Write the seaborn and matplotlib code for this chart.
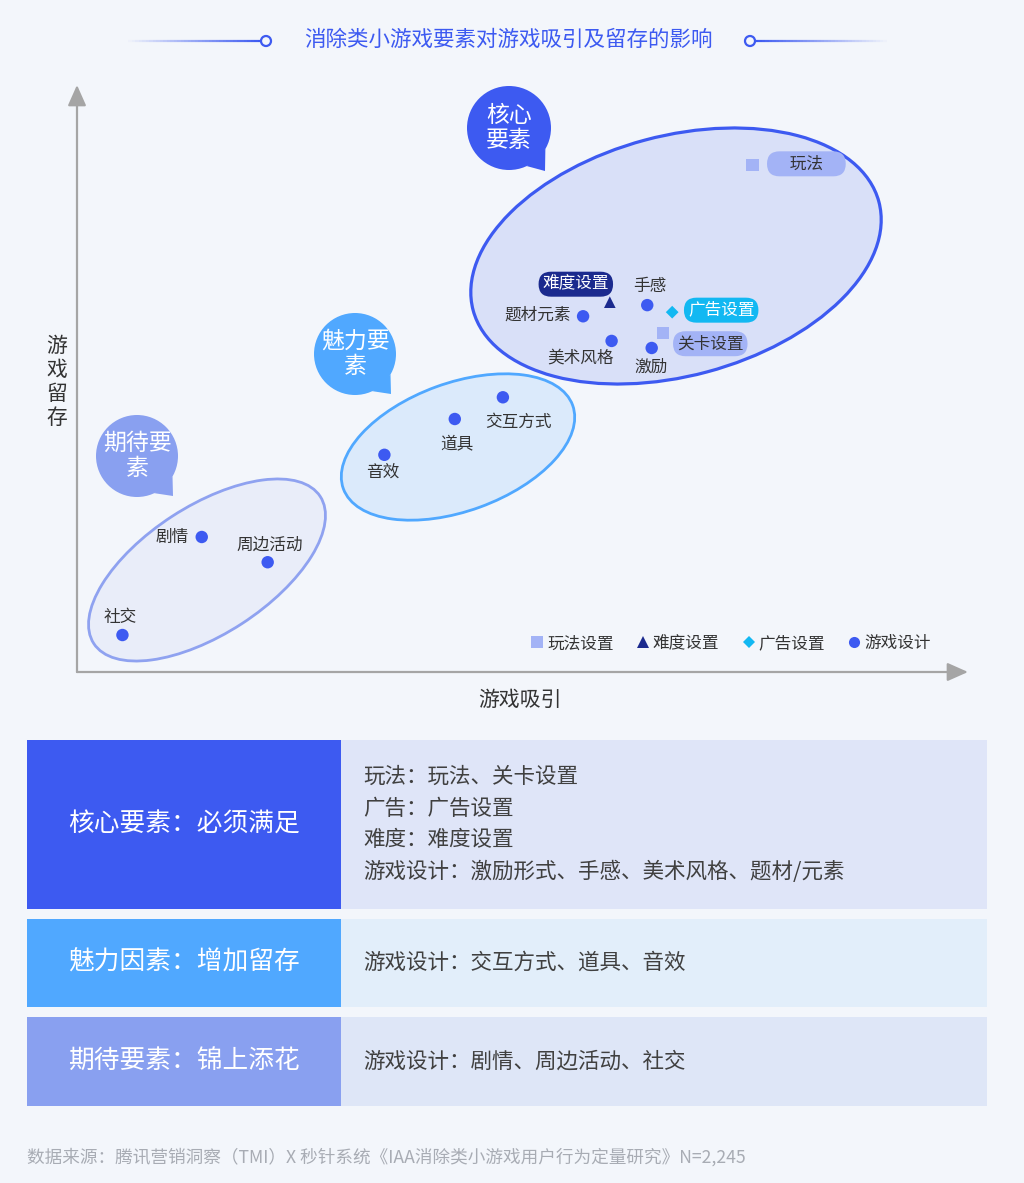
import numpy as np
import pandas as pd
import matplotlib.pyplot as plt
import seaborn as sns
from matplotlib.patches import Ellipse, Circle, Polygon, Rectangle
from matplotlib.collections import LineCollection
from matplotlib.colors import to_rgba

# data (0-100 on both axes)
names = ['玩法', '难度设置', '手感', '广告设置', '关卡设置', '题材元素', '美术风格', '激励',
         '交互方式', '道具', '音效', '剧情', '周边活动', '社交']
attract = [75.8, 59.8, 64.0, 66.8, 65.8, 56.8, 60.0, 64.5, 47.8, 42.4, 34.5, 14.0, 21.4, 5.1]
retain = [86.4, 63.0, 62.5, 61.3, 57.8, 60.6, 56.4, 55.2, 46.8, 43.1, 37.0, 23.0, 18.7, 6.3]
kinds = ['玩法设置', '难度设置', '游戏设计', '广告设置', '玩法设置', '游戏设计', '游戏设计', '游戏设计',
         '游戏设计', '游戏设计', '游戏设计', '游戏设计', '游戏设计', '游戏设计']
kind_order = ['玩法设置', '难度设置', '广告设置', '游戏设计']

title = '消除类小游戏要素对游戏吸引及留存的影响'
groups = ['核心要素：必须满足', '魅力因素：增加留存', '期待要素：锦上添花']
group_items = [['玩法：玩法、关卡设置', '广告：广告设置', '难度：难度设置',
                '游戏设计：激励形式、手感、美术风格、题材/元素'],
               ['游戏设计：交互方式、道具、音效'],
               ['游戏设计：剧情、周边活动、社交']]
source = '数据来源：腾讯营销洞察（TMI）X 秒针系统《IAA消除类小游戏用户行为定量研究》N=2,245'

W, H = 1024, 1183
BG = '#f3f6fb'
BLUE = '#3d5af1'
SKY = '#50a8ff'
LAV = '#89a0f0'
TXT = '#333333'

sns.set_theme(style='white')
plt.rcParams['font.family'] = ['Noto Sans CJK SC', 'DejaVu Sans']

fig = plt.figure(figsize=(W / 100, H / 100), dpi=100)
fig.patch.set_facecolor(BG)

# background / decoration layer in pixel units
bg = fig.add_axes([0, 0, 1, 1], zorder=0)
bg.set_xlim(0, W)
bg.set_ylim(H, 0)
bg.axis('off')

# title with gradient side lines
bg.text(508, 40, title, ha='center', va='center', fontsize=15.5, color=BLUE)
def grad_line(x0, x1, fade_left):
    xs = np.linspace(x0, x1, 40)
    segs = [[(xs[i], 41), (xs[i + 1], 41)] for i in range(len(xs) - 1)]
    a = np.linspace(0, 1, len(segs))
    if not fade_left:
        a = a[::-1]
    cols = [to_rgba(BLUE, v) for v in a]
    bg.add_collection(LineCollection(segs, colors=cols, linewidths=1.6))
grad_line(125, 261, True)
grad_line(755, 890, False)
for cx in (266, 750):
    bg.add_patch(Circle((cx, 41), 5, facecolor=BG, edgecolor=BLUE, lw=1.6))

# group ellipses
bg.add_patch(Ellipse((676, 256), 420, 240, angle=-15, facecolor='#d9e0f8', edgecolor=BLUE, lw=2.3))
bg.add_patch(Ellipse((458, 447), 244, 128, angle=-20, facecolor='#dbeafb', edgecolor=SKY, lw=2))
bg.add_patch(Ellipse((207, 570), 270, 128, angle=-33, facecolor='#e9edf9', edgecolor='#8fa2f0', lw=2))

# speech bubbles
def bubble(cx, cy, r, tip, color, label):
    a1, a2 = np.deg2rad(30), np.deg2rad(65)
    bg.add_patch(Polygon([(cx + r * np.cos(a1), cy + r * np.sin(a1)), tip,
                          (cx + r * np.cos(a2), cy + r * np.sin(a2))], color=color, lw=0))
    bg.add_patch(Circle((cx, cy), r, color=color, lw=0))
    bg.text(cx, cy, label, ha='center', va='center', fontsize=16.5, color='white',
            linespacing=1.15)
bubble(509, 128, 42, (545, 171), BLUE, '核心\n要素')
bubble(355, 354, 41, (391, 394), SKY, '魅力要\n素')
bubble(137, 456, 41, (173, 496), LAV, '期待要\n素')

# axis titles
bg.text(57, 382, '游\n戏\n留\n存', ha='center', va='center', fontsize=15, color=TXT, linespacing=1.12)
bg.text(520, 700, '游戏吸引', ha='center', va='center', fontsize=15, color=TXT)

# table
rows = [(740, 909, BLUE, '#dfe5f8'), (919, 1007, SKY, '#e2eefa'), (1017, 1106, LAV, '#dee6f7')]
for (y0, y1, lc, rc), g, items in zip(rows, groups, group_items):
    bg.add_patch(Rectangle((27, y0), 314, y1 - y0, color=lc, lw=0))
    bg.add_patch(Rectangle((341, y0), 646, y1 - y0, color=rc, lw=0))
    bg.text(184, (y0 + y1) / 2, g, ha='center', va='center', fontsize=18.5, color='white')
    n = len(items)
    mid = (y0 + y1) / 2
    for i, it in enumerate(items):
        y = mid + (i - (n - 1) / 2) * 31.7
        bg.text(363, y, it, ha='left', va='center', fontsize=15.5, color='#404040')

bg.text(27, 1157, source, ha='left', va='center', fontsize=12.7, color='#a8acb4')

# scatter layer
df = pd.DataFrame({'name': names, 'attract': attract, 'retain': retain, 'kind': kinds})
ax = fig.add_axes([77 / W, 1 - 672 / H, (968 - 77) / W, (672 - 85) / H], zorder=1)
ax.patch.set_alpha(0)
sns.scatterplot(data=df, x='attract', y='retain', hue='kind', style='kind', size='kind',
                hue_order=kind_order, style_order=kind_order, size_order=kind_order,
                palette={'玩法设置': '#a3b3f6', '难度设置': '#1b2a8e', '广告设置': '#12b8f2', '游戏设计': BLUE},
                markers={'玩法设置': 's', '难度设置': '^', '广告设置': 'D', '游戏设计': 'o'},
                sizes={'玩法设置': 80, '难度设置': 70, '广告设置': 42, '游戏设计': 80},
                linewidth=0, ax=ax)
ax.set_xlim(0, 100)
ax.set_ylim(0, 100)
ax.set_xticks([])
ax.set_yticks([])
ax.set_xlabel('')
ax.set_ylabel('')
for sp in ax.spines.values():
    sp.set_visible(False)

arrow = dict(arrowstyle='-|>,head_length=0.9,head_width=0.4', color='#a5a5a5', lw=1.6,
             mutation_scale=14, shrinkA=0, shrinkB=0)
ax.annotate('', xy=(0, 1), xytext=(0, 0), xycoords='axes fraction', arrowprops=arrow)
ax.annotate('', xy=(1, 0), xytext=(0, 0), xycoords='axes fraction', arrowprops=arrow)

# point labels: offset in pixels, alignment, pill colour
label_style = {
    '玩法': ((54, 1), 'center', '#a3b3f6', TXT, '     玩法     '),
    '难度设置': ((-34, 18), 'center', '#1b2a8e', 'white', None),
    '手感': ((3, 19), 'center', None, TXT, None),
    '广告设置': ((49, 2), 'center', '#12b8f2', 'white', None),
    '关卡设置': ((47, -11), 'center', '#a3b3f6', TXT, None),
    '题材元素': ((-12, 1), 'right', None, TXT, None),
    '美术风格': ((-31, -17), 'center', None, TXT, None),
    '激励': ((-1, -19), 'center', None, TXT, None),
    '交互方式': ((16, -25), 'center', None, TXT, None),
    '道具': ((2, -25), 'center', None, TXT, None),
    '音效': ((-2, -17), 'center', None, TXT, None),
    '剧情': ((-13, 0), 'right', None, TXT, None),
    '周边活动': ((2, 17), 'center', None, TXT, None),
    '社交': ((-2, 18), 'center', None, TXT, None),
}
for n, x, y in zip(names, attract, retain):
    off, ha, pill, col, txt = label_style[n]
    box = None
    if pill:
        box = dict(boxstyle='round,pad=0.24,rounding_size=0.75', fc=pill, ec='none')
    ax.annotate(txt or n, xy=(x, y), xytext=off, textcoords='offset pixels',
                ha=ha, va='center', fontsize=12, color=col, bbox=box)

sns.move_legend(ax, 'lower right', bbox_to_anchor=(0.975, 0.008), ncol=4, frameon=False,
                title=None, fontsize=12, handletextpad=0.15, columnspacing=1.3,
                handlelength=0.9)
leg = ax.get_legend()
for t in leg.get_texts():
    t.set_color(TXT)
for h, k in zip(leg.legend_handles, kind_order):
    h.set_markersize(6.5 if k == '广告设置' else 8)

fig.savefig('out.png', dpi=100, facecolor=BG)
